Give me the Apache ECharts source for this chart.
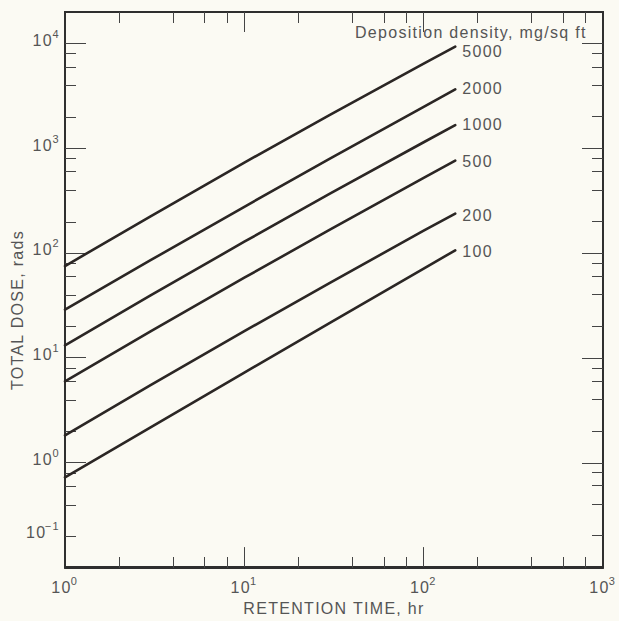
<!DOCTYPE html>
<html>
<head>
<meta charset="utf-8">
<script src="https://cdn.jsdelivr.net/npm/echarts@6/dist/echarts.min.js"></script>
<style>
html, body { margin: 0; padding: 0; background: #fbfaf3; }
#chart { width: 619px; height: 621px; }
#chart text { letter-spacing: 1.3px; }
</style>
</head>
<body>
<div id="chart"></div>
<script>
// ---- data ----
const retentionTime = [1, 3, 10, 30, 100, 150];            // hr
const depositionDensities = ['5000', '2000', '1000', '500', '200', '100']; // mg/sq ft
const dose5000 = [75, 224, 730, 2085, 6440, 9350];
const dose2000 = [28.8, 85.3, 276, 794, 2488, 3650];
const dose1000 = [13.1, 39.3, 128, 368, 1141, 1660];
const dose500  = [5.94, 17.8, 58, 167, 521, 760];
const dose200  = [1.81, 5.46, 17.9, 51.9, 163, 238];
const dose100  = [0.72, 2.16, 7.2, 21.5, 70.9, 106];

// axis ticks / labels
const xLabelValues = [1, 10, 100, 1000];
const xLabelExponents = ['0', '1', '2', '3'];
const yLabelValues = [0.2, 1, 10, 100, 1000, 10000];
const yLabelExponents = ['\u22121', '0', '1', '2', '3', '4'];
const xMajorTicks = [10, 100];
const xMinorTicks = [2, 4, 6, 8, 20, 40, 60, 80, 200, 400, 600, 800];
const yMajorTicks = [1, 10, 100, 1000, 10000];
const yMinorTicks = [0.2, 0.4, 0.6, 0.8, 2, 4, 6, 8, 20, 40, 60, 80, 200, 400, 600, 800, 2000, 4000, 6000, 8000];

const xTitle = 'RETENTION TIME, hr';
const yTitle = 'TOTAL DOSE, rads';
const legendTitle = 'Deposition density, mg/sq ft';

// ---- styling ----
const FONT = '"Liberation Sans", Arial, sans-serif';
const TEXT = '#555555';
const INK = '#2b2624';
const AXIS = '#2e2e2e';
const doseSeries = [dose5000, dose2000, dose1000, dose500, dose200, dose100];
const endLabelOffsets = [[0, 5], [0, -1], [0, -1], [0, 1], [0, 2], [0, 1]];

const rich = {
  b: { fontSize: 16, lineHeight: 24, color: TEXT, fontFamily: FONT },
  s: { fontSize: 11, lineHeight: 12, verticalAlign: 'top', color: TEXT, fontFamily: FONT, padding: [0, 0, 0, 1] }
};
function fmt(values, exps) {
  return function (v) {
    for (let i = 0; i < values.length; i++) {
      if (Math.abs(Math.log10(v) - Math.log10(values[i])) < 1e-6) return '{b|10}{s|' + exps[i] + '}';
    }
    return '';
  };
}

const axisLine = { show: true, lineStyle: { color: AXIS, width: 1.8 } };
function xAx(grid, pos, ticks, len, labels) {
  const a = {
    gridIndex: grid, type: 'log', logBase: 10, min: 1, max: 1000, position: pos,
    axisLine: axisLine,
    axisTick: { show: true, inside: true, length: len, customValues: ticks, lineStyle: { color: '#444', width: 1 } },
    axisLabel: { show: false },
    splitLine: { show: false }, minorTick: { show: false }
  };
  if (labels) {
    a.axisLabel = { show: true, customValues: xLabelValues, formatter: fmt(xLabelValues, xLabelExponents), rich: rich, margin: 8 };
    a.name = xTitle;
    a.nameLocation = 'middle';
    a.nameGap = 28;
    a.nameTextStyle = { fontSize: 16, color: TEXT, fontFamily: FONT };
  }
  return a;
}
function yAx(grid, pos, ticks, len, labels) {
  const a = {
    gridIndex: grid, type: 'log', logBase: 10, min: 0.1, max: 20000, position: pos,
    axisLine: axisLine,
    axisTick: { show: true, inside: true, length: len, customValues: ticks, lineStyle: { color: '#444', width: 1 } },
    axisLabel: { show: false },
    splitLine: { show: false }, minorTick: { show: false }
  };
  if (labels) {
    a.axisLabel = { show: true, customValues: yLabelValues, formatter: fmt(yLabelValues, yLabelExponents), rich: rich, margin: 5, padding: [0, 0, 6, 0] };
  }
  return a;
}

const option = {
  backgroundColor: '#fbfaf3',
  animation: false,
  textStyle: { fontFamily: FONT },
  title: {
    text: legendTitle, left: 350, top: 19,
    textStyle: { fontSize: 16, fontWeight: 'normal', color: TEXT, fontFamily: FONT }
  },
  grid: [
    { left: 65, right: 16, top: 12, bottom: 53 },
    { left: 65, right: 16, top: 12, bottom: 53 }
  ],
  xAxis: [
    xAx(0, 'bottom', xMajorTicks, 20, true),
    xAx(0, 'top', xMinorTicks, 11, false),
    xAx(1, 'bottom', xMinorTicks, 11, false),
    xAx(1, 'top', xMajorTicks, 20, false)
  ],
  yAxis: [
    yAx(0, 'left', yMajorTicks, 21, true),
    yAx(0, 'right', yMinorTicks, 11, false),
    yAx(1, 'left', yMinorTicks, 11, false),
    yAx(1, 'right', yMajorTicks, 21, false)
  ],
  graphic: [{
    type: 'text', x: 17, y: 310, rotation: Math.PI / 2,
    style: { text: yTitle, font: '16px ' + FONT, fill: TEXT, align: 'center', verticalAlign: 'middle' }
  }],
  series: depositionDensities.map(function (name, k) {
    return {
      name: name, type: 'line', xAxisIndex: 0, yAxisIndex: 0,
      data: retentionTime.map(function (t, i) { return [t, doseSeries[k][i]]; }),
      symbol: 'none', silent: true, smooth: false,
      lineStyle: { color: INK, width: 2.6, cap: 'round', join: 'round' },
      endLabel: { show: true, formatter: '{a}', distance: 7, offset: endLabelOffsets[k], color: TEXT, fontSize: 16, fontFamily: FONT }
    };
  })
};

const chart = echarts.init(document.getElementById('chart'), null, { renderer: 'svg' });
chart.setOption(option);
</script>
</body>
</html>
